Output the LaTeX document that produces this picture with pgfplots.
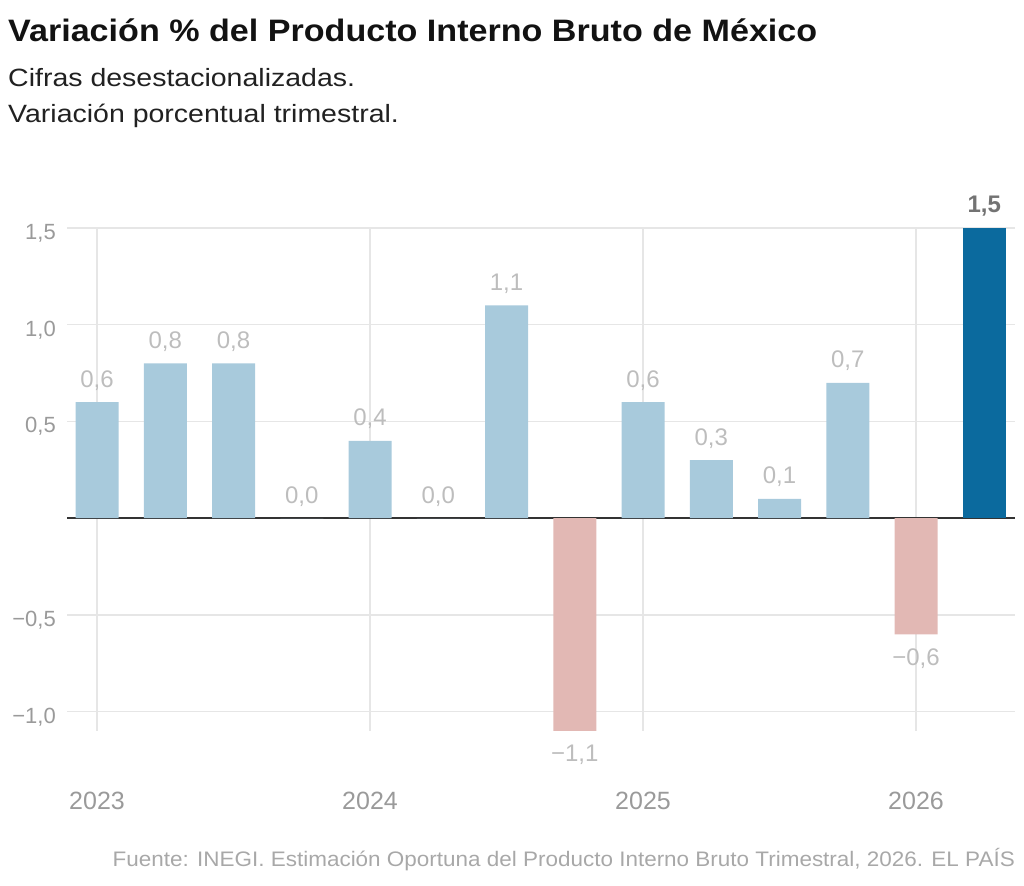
\documentclass[border=0pt]{standalone}
\usepackage{pgfplots}
\pgfplotsset{compat=1.18}
\usepackage{fontspec}
\setmainfont{Liberation Sans}
\newfontfamily\titlefont[FakeStretch=1.1]{Liberation Sans}
\newfontfamily\subfont[FakeStretch=1.14]{Liberation Sans}
\newfontfamily\srcfont[FakeStretch=1.07]{Liberation Sans}

\definecolor{barblue}{HTML}{A8CADC}
\definecolor{barpink}{HTML}{E2B8B4}
\definecolor{bardark}{HTML}{0B6A9E}
\definecolor{gridgray}{HTML}{E6E6E6}
\definecolor{ticktext}{HTML}{9A9A9A}
\definecolor{valtext}{HTML}{BDBDBD}
\definecolor{srctext}{HTML}{A8A8A8}

\begin{document}
\begin{tikzpicture}[x=1pt,y=1pt]
\useasboundingbox (0,0) rectangle (1024,885);

% Titles
\node[anchor=base west, inner sep=0, text=black!93,
      font=\titlefont\fontsize{31}{35}\selectfont\bfseries] at (8,843)
  {Variación \% del Producto Interno Bruto de México};
\node[anchor=base west, inner sep=0, text=black!87,
      font=\subfont\fontsize{25}{29}\selectfont] at (8,798)
  {Cifras desestacionalizadas.};
\node[anchor=base west, inner sep=0, text=black!87,
      font=\subfont\fontsize{25}{29}\selectfont] at (8,762)
  {Variación porcentual trimestral.};

% Source line
\node[anchor=base east, inner sep=0, text=srctext,
      font=\srcfont\fontsize{21}{25}\selectfont] at (1015,18)
  {Fuente: INEGI. Estimación Oportuna del Producto Interno Bruto Trimestral, 2026. EL PAÍS};

\begin{axis}[
  at={(67pt,154pt)}, anchor=south west,
  scale only axis, width=948pt, height=503pt,
  xmin=-0.44, xmax=13.45, ymin=-1.1, ymax=1.5,
  axis line style={draw=none},
  major tick style={draw=none},
  xtick={0,4,8,12}, xticklabels={2023,2024,2025,2026},
  ytick={-1,-0.5,0.5,1,1.5},
  yticklabels={{−1,0},{−0,5},{0,5},{1,0},{1,5}},
  xmajorgrids, ymajorgrids,
  grid style={draw=gridgray, line width=1.5pt},
  xticklabel style={anchor=base, inner sep=0, yshift=-74pt,
                    font=\fontsize{25}{30}\selectfont, text=ticktext},
  yticklabel style={anchor=base east, inner sep=0, xshift=-11pt, yshift=-11.5pt,
                    font=\fontsize{22}{26}\selectfont, text=ticktext},
  extra y ticks={0}, extra y tick labels={},
  extra y tick style={grid style={draw=black!80, line width=2pt}},
  ybar, bar width=43pt, bar shift=0pt,
  clip=false,
]

% Positive (and zero) quarters
\addplot[fill=barblue, draw=none,
  nodes near coords, point meta=explicit symbolic,
  nodes near coords style={anchor=base, inner sep=0, yshift=15pt,
    font=\fontsize{24}{28}\selectfont, text=valtext}]
  coordinates {
    (0,0.6) [0,6]
    (1,0.8) [0,8]
    (2,0.8) [0,8]
    (3,0.0) [0,0]
    (4,0.4) [0,4]
    (5,0.0) [0,0]
    (6,1.1) [1,1]
    (8,0.6) [0,6]
    (9,0.3) [0,3]
    (10,0.1) [0,1]
    (11,0.7) [0,7]
  };

% Negative quarters
\addplot[fill=barpink, draw=none,
  nodes near coords, point meta=explicit symbolic,
  nodes near coords style={anchor=north, inner sep=0, yshift=-14pt,
    font=\fontsize{24}{28}\selectfont, text=valtext}]
  coordinates {
    (7,-1.1) [−1,1]
    (12,-0.6) [−0,6]
  };

% Latest quarter
\addplot[fill=bardark, draw=none,
  nodes near coords, point meta=explicit symbolic,
  nodes near coords style={anchor=base, inner sep=0, yshift=15pt,
    font=\fontsize{24}{28}\selectfont\bfseries, text=black!55}]
  coordinates {
    (13,1.5) [1,5]
  };

\end{axis}
\end{tikzpicture}
\end{document}
